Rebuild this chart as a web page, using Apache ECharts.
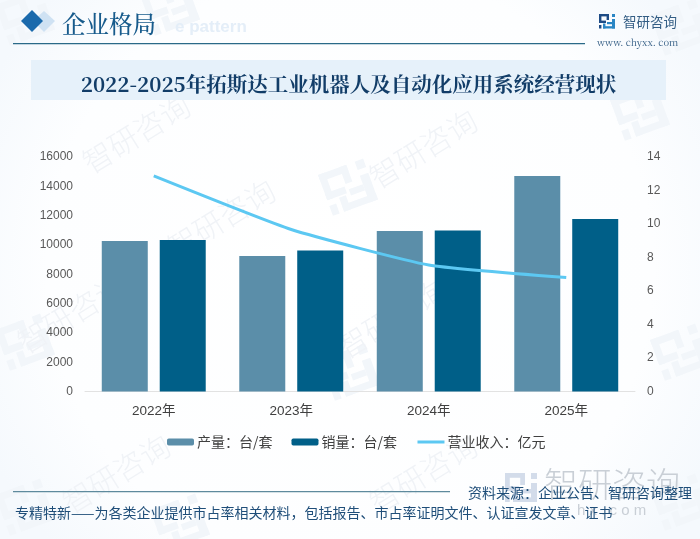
<!DOCTYPE html>
<html><head><meta charset="utf-8">
<style>html,body{margin:0;padding:0;background:#fff}#c{width:700px;height:539px}</style>
<script src="https://cdn.jsdelivr.net/npm/echarts@6/dist/echarts.min.js"></script>
</head><body><div id="c"></div>
<script>
const categories = ['2022年','2023年','2024年','2025年'];
const production = [10270,9240,10950,14700];
const sales = [10340,9620,10980,11770];
const revenue = [12.87,9.67,7.55,6.8];
const leftTicks = {min:0,max:16000,interval:2000};
const rightTicks = {min:0,max:14,interval:2};
const names = ['产量：台/套','销量：台/套','营业收入：亿元'];
const sectionTitle = '企业格局';
const ghostTitle = 'e pattern';
const chartTitle = '2022-2025年拓斯达工业机器人及自动化应用系统经营现状';
const sourceText = '资料来源：企业公告、智研咨询整理';
const footerText = '专精特新——为各类企业提供市占率相关材料，包括报告、市占率证明文件、认证宣发文章、证书';

const SANS = '"Noto Sans CJK SC","Noto Sans",sans-serif';
const SERIF = '"Noto Serif CJK SC","Liberation Serif","Noto Sans CJK SC",serif';
const ARIAL = '"Liberation Sans","Noto Sans CJK SC",sans-serif';

function logo(x,y,s,c1,c2,rot){
  const r=(a,b,w,h,f)=>({type:'rect',shape:{x:a*s,y:b*s,width:w*s,height:h*s},style:{fill:f}});
  return {type:'group',x,y,rotation:rot||0,children:[
    r(0,0,10,2.4,c1),r(0,0,2.4,9,c1),r(0,6.6,7,2.4,c1),r(7.6,0,2.4,6,c1),
    r(0,11,2.4,3.5,c1),r(4,9.5,2.4,5,c2),r(4,12.2,12,2.3,c2),
    r(13,0,3,3,c2),r(13,5,3,9.5,c2),r(8,8,5,2.2,c2)
  ]};
}
function wm(x,y,size){
  return {type:'group',x,y,rotation:0.55,children:[
    {type:'text',x:0,y:0,style:{text:'智研咨询',font:'300 '+size+'px '+SANS,fill:'#f0f3f7',textVerticalAlign:'middle'}}
  ]};
}
const markWatermarks=[[-5,5],[140,-5],[318,175],[610,100],[650,15],[-5,330],[320,360],[-5,495],[150,510],[650,340],[650,490]];
const textWatermarks=[[85,165],[372,180],[20,345],[340,350],[170,250],[65,505],[372,505]];

const graphics=[
  {type:'rect',shape:{x:0,y:0,width:700,height:539},style:{fill:{type:'radial',x:.5,y:.5,r:.75,colorStops:[{offset:0,color:'#ffffff'},{offset:.75,color:'#fdfeff'},{offset:1,color:'#f5f9fd'}]}}},
  ...markWatermarks.map(p=>logo(p[0],p[1],3,'#f2f6fa','#f2f6fa',0.35)),
  ...textWatermarks.map(p=>wm(p[0],p[1],30)),
  {type:'rect',shape:{x:31,y:60,width:635,height:40},style:{fill:'#e6f1fa'}},
  {type:'text',x:348.5,y:84,style:{text:chartTitle,font:'bold 20.5px '+SERIF,fill:'#123d68',textAlign:'center',textVerticalAlign:'middle'}},
  {type:'polygon',shape:{points:[[33,21],[44,11],[55,21],[44,32]]},style:{fill:'#cfe2f3'}},
  {type:'polygon',shape:{points:[[21,21],[32,10],[43,21],[32,32]]},style:{fill:'#1b6aac'}},
  {type:'text',x:175,y:27,style:{text:ghostTitle,font:'bold 17px '+ARIAL,fill:'#e4eef8',textVerticalAlign:'middle'}},
  {type:'text',x:62,y:24,style:{text:sectionTitle,font:'500 23.5px '+SERIF,fill:'#175b8c',textVerticalAlign:'middle'}},
  {type:'rect',shape:{x:13,y:43,width:572,height:1.2},style:{fill:'#2a6a88'}},
  logo(599,14,1,'#1e4c86','#2a86c4'),
  {type:'text',x:623,y:21.5,style:{text:'智研咨询',font:'13.5px '+SANS,fill:'#335d84',textVerticalAlign:'middle'}},
  {type:'text',x:597,y:42,style:{text:'www. chyxx. com',font:'9.5px '+SERIF,fill:'#335d84',textVerticalAlign:'middle'}},
  logo(505,473,2,'#d3dcea','#d3dcea'),
  {type:'text',x:544,y:484,style:{text:'智研咨询',font:'300 34px '+SANS,fill:'#c9cfd6',textVerticalAlign:'middle'}},
  {type:'text',x:577,y:511,style:{text:'h x . c o m',font:'15px '+ARIAL,fill:'#c9cfd6',textVerticalAlign:'middle'}},
  {type:'rect',shape:{x:13,y:491,width:437,height:1.2},style:{fill:'#5e8a9d'}},
  {type:'text',x:468,y:493,style:{text:sourceText,font:'14px '+SANS,fill:'#1f4e79',textVerticalAlign:'middle'}},
  {type:'text',x:15,y:513,style:{text:footerText,font:'14px '+SANS,fill:'#1f4e79',textVerticalAlign:'middle'}}
];

const axisText={color:'#595959',fontSize:12,fontFamily:ARIAL,margin:12,formatter:v=>String(v)};
const chart=echarts.init(document.getElementById('c'),null,{renderer:'canvas'});
chart.setOption({
  animation:false,
  backgroundColor:'transparent',
  graphic:{elements:graphics},
  grid:{left:85,right:65,top:157,height:234.5},
  legend:{left:162,top:430,itemWidth:27,itemHeight:7,itemGap:19,
    textStyle:{fontSize:14,color:'#404040',fontFamily:SANS,padding:[0,0,0,-2]},
    data:[names[0],names[1],{name:names[2],itemStyle:{opacity:0},lineStyle:{width:3,color:'#5cc8f2'}}]},
  xAxis:{type:'category',data:categories,
    axisLine:{lineStyle:{color:'#e2e2e2',width:1}},axisTick:{show:false},
    axisLabel:{color:'#404040',fontSize:13.5,fontFamily:ARIAL,margin:13}},
  yAxis:[
    {type:'value',...leftTicks,splitLine:{show:false},axisLine:{show:false},axisTick:{show:false},axisLabel:axisText},
    {type:'value',...rightTicks,position:'right',splitLine:{show:false},axisLine:{show:false},axisTick:{show:false},axisLabel:axisText}
  ],
  series:[
    {name:names[0],type:'bar',data:production,barWidth:46,barGap:'26%',itemStyle:{color:'#5b8ea9'}},
    {name:names[1],type:'bar',data:sales,barWidth:46,barGap:'26%',itemStyle:{color:'#005f88'}},
    {name:names[2],type:'line',yAxisIndex:1,data:revenue,smooth:0.15,showSymbol:false,symbol:'none',lineStyle:{color:'#5cc8f2',width:3},itemStyle:{color:'#5cc8f2'},z:5}
  ]
});
</script></body></html>
